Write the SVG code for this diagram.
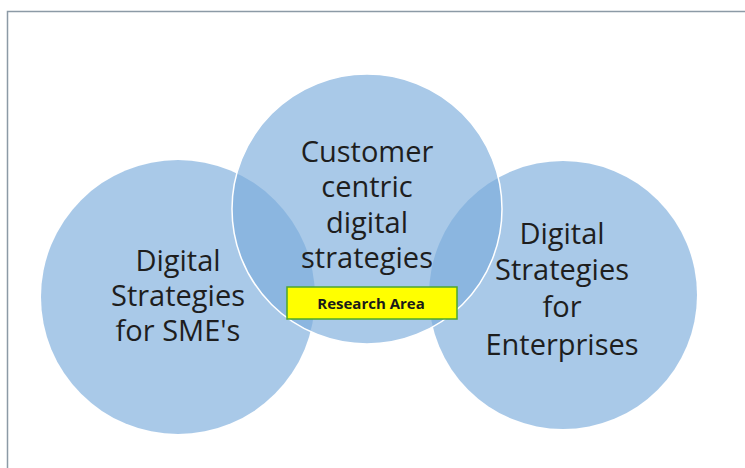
<svg xmlns="http://www.w3.org/2000/svg" width="745" height="468" viewBox="0 0 745 468">
<style>
.c{fill:#7bacdc;fill-opacity:0.65}
.t{font-family:"Open Sans","Noto Sans",sans-serif;font-size:29px;fill:#1e1e1e;text-anchor:middle}
.lbl{font-family:"Open Sans","Noto Sans",sans-serif;font-size:15px;font-weight:bold;fill:#1a1a1a;text-anchor:middle}
</style>
<rect x="0" y="0" width="745" height="468" fill="#ffffff"/>
<rect x="7.5" y="11.5" width="760" height="480" fill="none" stroke="#8c9aa6" stroke-width="1.5"/>
<g id="sme">
<circle class="c" cx="178" cy="297" r="137"/>
<text class="t" x="178" y="271">Digital</text>
<text class="t" x="178" y="306">Strategies</text>
<text class="t" x="178" y="341">for SME's</text>
</g>
<g id="enterprises">
<circle class="c" cx="563" cy="295" r="134"/>
<text class="t" x="562" y="244">Digital</text>
<text class="t" x="562" y="280">Strategies</text>
<text class="t" x="562" y="317">for</text>
<text class="t" x="562" y="355">Enterprises</text>
</g>
<g id="customer">
<circle class="c" cx="367" cy="209" r="135" stroke="#ffffff" stroke-width="1.5"/>
<text class="t" x="367" y="162">Customer</text>
<text class="t" x="367" y="197">centric</text>
<text class="t" x="367" y="233">digital</text>
<text class="t" x="367" y="268">strategies</text>
</g>
<g id="research">
<rect x="287" y="287" width="170" height="32" fill="#ffff00" stroke="#4ea72e" stroke-width="1.5"/>
<text class="lbl" x="371" y="309">Research Area</text>
</g>
<g id="connectors"/>
</svg>
